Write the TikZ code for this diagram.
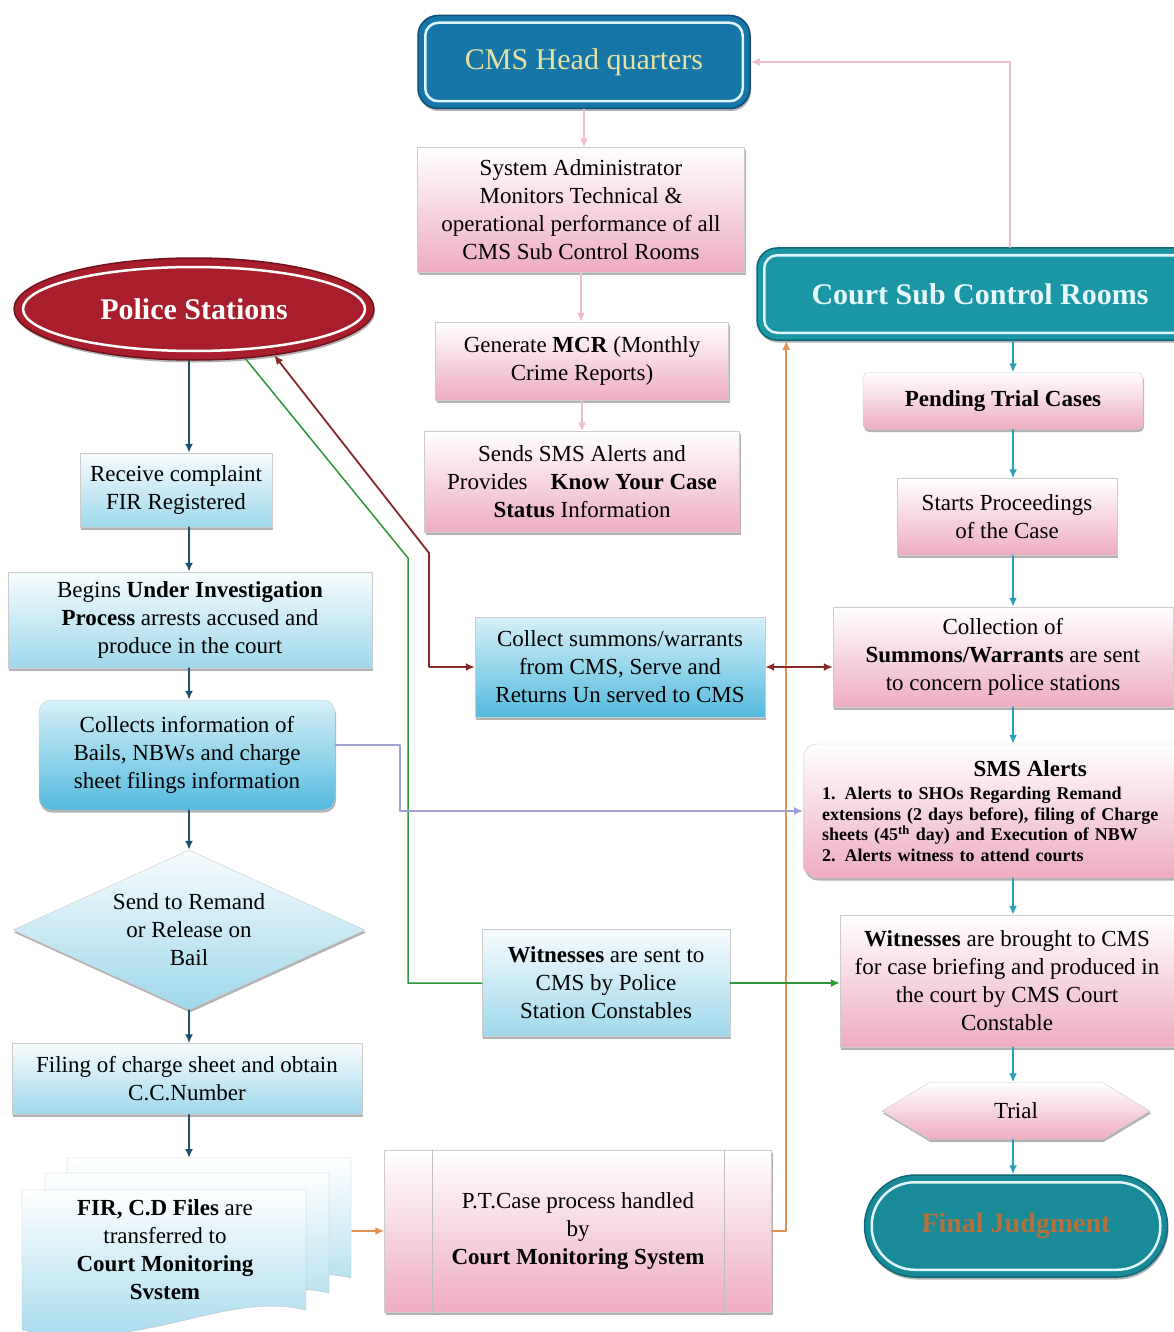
\documentclass[tikz,border=0pt]{standalone}
\usepackage{fontspec}
\setmainfont{Liberation Serif}
\usetikzlibrary{shapes.geometric,shapes.symbols,shadows,arrows.meta}
\definecolor{hqblue}{RGB}{22,118,168}
\definecolor{hqedge}{RGB}{12,78,118}
\definecolor{courtteal}{RGB}{26,150,165}
\definecolor{courtedge}{RGB}{14,104,118}
\definecolor{policered}{RGB}{168,30,44}
\definecolor{policeedge}{RGB}{112,18,28}
\definecolor{rosebottom}{RGB}{238,172,192}
\definecolor{skybottom}{RGB}{158,216,236}
\definecolor{skydeep}{RGB}{84,186,222}
\definecolor{skytop}{RGB}{214,240,248}
\definecolor{hqtext}{RGB}{232,226,160}
\definecolor{finaltext}{RGB}{178,112,58}
\definecolor{linkpink}{RGB}{240,190,202}
\definecolor{linkblue}{RGB}{30,78,112}
\definecolor{linkteal}{RGB}{40,158,184}
\definecolor{linkred}{RGB}{136,40,40}
\definecolor{linkgreen}{RGB}{44,150,56}
\definecolor{linkorange}{RGB}{226,146,80}
\definecolor{linklilac}{RGB}{160,160,214}
\newcommand{\boxfont}{\fontsize{23}{28}\selectfont}

\begin{document}
\begin{tikzpicture}[x=1pt,y=-1pt,line cap=round,line join=round,>={Latex[length=9pt,width=8pt]},
  pinkbox/.style={rectangle,draw=black!20,top color=white,bottom color=rosebottom,align=center,inner sep=0pt,font=\boxfont,
    drop shadow={shadow xshift=1pt,shadow yshift=-2.5pt,fill=black!60}},
  skybox/.style={pinkbox,bottom color=skybottom,top color=white!92!skybottom},
  deepbox/.style={pinkbox,rounded corners=12pt,bottom color=skydeep,top color=skytop},
  bandbox/.style={rectangle,rounded corners=#1,line width=1.5pt,inner sep=0pt,
    drop shadow={shadow xshift=1pt,shadow yshift=-2.5pt,fill=black!60}},
  innerline/.style={draw=cyan!12,line width=2.5pt},
  pinklink/.style={linkpink,line width=1.5pt,->},
  bluelink/.style={linkblue,line width=1.8pt,->},
  teallink/.style={linkteal,line width=1.8pt,->}]

  \useasboundingbox (0,0) rectangle (1174,1332);
  \clip (0,0) rectangle (1174,1332);

  % centre column
  \node[bandbox=20pt,fill=hqblue,draw=hqedge,minimum width=332pt,minimum height=93pt,
        font=\fontsize{30}{34}\selectfont,text=hqtext] (hq) at (584,62) {CMS Head quarters};
  \node[pinkbox,minimum width=327pt,minimum height=125pt] (sysadm) at (581,210)
    {System Administrator\\Monitors Technical \&\\operational performance of all\\CMS Sub Control Rooms};
  \node[pinkbox,minimum width=293pt,minimum height=78pt] (mcr) at (582,361)
    {Generate \textbf{MCR} (Monthly\\Crime Reports)};
  \node[pinkbox,minimum width=315pt,minimum height=101pt] (sms) at (582,482)
    {Sends SMS Alerts and\\Provides\quad\textbf{Know Your Case}\\\textbf{Status} Information};
  \node[deepbox,rounded corners=0pt,minimum width=290pt,minimum height=100pt] (summons) at (620,667)
    {Collect summons/warrants\\from CMS, Serve and\\Returns Un served to CMS};
  \node[skybox,minimum width=248pt,minimum height=107pt] (witsent) at (606,983)
    {\textbf{Witnesses} are sent to\\CMS by Police\\Station Constables};
  \node[pinkbox,minimum width=387pt,minimum height=162pt] (ptcase) at (578,1231)
    {P.T.Case process handled\\by\\\textbf{Court Monitoring System}};
  \draw[black!25] ([xshift=48pt]ptcase.north west) -- ([xshift=48pt]ptcase.south west)
                  ([xshift=-48pt]ptcase.north east) -- ([xshift=-48pt]ptcase.south east);

  % right column
  \node[bandbox=20pt,fill=courtteal,draw=courtedge,minimum width=446pt,minimum height=92pt,
        font=\fontsize{30}{34}\selectfont\bfseries,text=cyan!10] (court) at (980,294) {Court Sub Control Rooms};
  \node[pinkbox,rounded corners=5pt,minimum width=280pt,minimum height=57pt] (pending) at (1003,401)
    {\textbf{Pending Trial Cases}};
  \node[pinkbox,minimum width=220pt,minimum height=77pt] (starts) at (1007,517)
    {Starts Proceedings\\of the Case};
  \node[pinkbox,minimum width=340pt,minimum height=100pt] (collection) at (1003,657)
    {Collection of\\\textbf{Summons/Warrants} are sent\\to concern police stations};
  \node[pinkbox,rounded corners=14pt,anchor=west,align=left,text width=416pt,inner xsep=19pt,
        minimum height=134pt,font=\fontsize{18}{20.5}\selectfont\bfseries] (alerts) at (803,811)
    {\makebox[\linewidth]{\fontsize{23}{26}\selectfont SMS Alerts}\\[3pt]
     1. Alerts to SHOs Regarding Remand\\
     extensions (2 days before), filing of Charge\\
     sheets (45\textsuperscript{th} day) and Execution of NBW\\
     2. Alerts witness to attend courts};
  \node[pinkbox,minimum width=334pt,minimum height=132pt] (witbrought) at (1007,981)
    {\textbf{Witnesses} are brought to CMS\\for case briefing and produced in\\the court by CMS Court\\Constable};
  \node[pinkbox,signal,signal to=west and east,signal pointer angle=62,minimum width=268pt,
        minimum height=57pt] (trial) at (1016,1111) {Trial};
  \node[bandbox=51pt,fill=courtteal!92!black,draw=courtedge,minimum width=303pt,minimum height=102pt,
        font=\fontsize{28}{32}\selectfont\bfseries,text=finaltext] (final) at (1016,1226) {Final Judgment};

  % left column
  \node[bandbox=10pt,ellipse,fill=policered,draw=policeedge,minimum width=360pt,minimum height=102pt,
        font=\fontsize{30}{34}\selectfont\bfseries,text=white] (police) at (194,309) {Police Stations};
  \draw[white,line width=2.5pt] (police.center) ellipse [x radius=171pt,y radius=42pt];
  \node[skybox,minimum width=192pt,minimum height=74pt] (receive) at (176,490)
    {Receive complaint\\FIR Registered};
  \node[skybox,minimum width=364pt,minimum height=96pt] (begins) at (190,620)
    {Begins \textbf{Under Investigation}\\\textbf{Process} arrests accused and\\produce in the court};
  \node[deepbox,minimum width=296pt,minimum height=110pt] (collects) at (187,755)
    {Collects information of\\Bails, NBWs and charge\\sheet filings information};
  \node[skybox,diamond,aspect=2.2,minimum width=352pt,minimum height=160pt] (remand) at (189,930)
    {Send to Remand\\or Release on\\Bail};
  \node[skybox,minimum width=350pt,minimum height=71pt] (filing) at (187,1079)
    {Filing of charge sheet and obtain\\C.C.Number};
  \foreach \dx/\dy in {45/-32,23/-17,0/0}
    \draw[black!25,top color=white,bottom color=skybottom,shift={(22+\dx,1190+\dy)}]
      (0,0) -- (284,0) -- (284,120) .. controls (200,100) and (120,165) .. (0,140) -- cycle;
  \node[align=center,font=\boxfont] (files) at (165,1250)
    {\textbf{FIR, C.D Files} are\\transferred to\\\textbf{Court Monitoring}\\\textbf{Svstem}};

  % inner light lines of the banded shapes
  \foreach \n/\r in {hq/13,court/13,final/43}
    \draw[innerline,rounded corners=\r pt] ([shift={(8pt,-8pt)}]\n.north west) rectangle ([shift={(-8pt,8pt)}]\n.south east);

  \coordinate (lcol) at (189,0);
  \coordinate (rcol) at (1013,0);
  \coordinate (pinkup) at (1010,0);
  \coordinate (stacktop) at (189,1158);
  \coordinate (stackedge) at (352,1231);
  \coordinate (redbend) at (429,553);
  \coordinate (greenbend) at (408,558);
  \coordinate (lilacbend) at (400,0);

  % connectors
  \foreach \a/\b in {hq/sysadm,sysadm/mcr,mcr/sms}
    \draw[pinklink] (\a.south) -- (\a.south |- \b.north);
  \draw[pinklink] (court.north -| pinkup) |- (hq.east);
  \foreach \a/\b in {court/pending,pending/starts,starts/collection,collection/alerts,alerts/witbrought,witbrought/trial,trial/final}
    \draw[teallink] (\a.south -| rcol) -- (\b.north -| rcol);
  \foreach \a/\b in {police/receive,receive/begins,begins/collects,collects/remand,remand/filing}
    \draw[bluelink] (\a.south -| lcol) -- (\b.north -| lcol);
  \draw[bluelink] (filing.south -| lcol) -- (stacktop);
  \draw[linkorange,line width=1.8pt,->] (stackedge) -- (ptcase.west);
  \draw[linkorange,line width=1.8pt,->] (ptcase.east) -| ([xshift=30pt]court.south west);
  \draw[linkred,line width=1.8pt,<->] (police.-30) -- (redbend) |- (summons.west);
  \draw[linkred,line width=1.8pt,<->] (summons.east) -- (summons.east -| collection.west);
  \draw[linkgreen,line width=1.5pt] (police.-44) -- (greenbend) |- (witsent.west);
  \draw[linkgreen,line width=1.8pt,->] (witsent.east) -- (witsent.east -| witbrought.west);
  \draw[linklilac,line width=1.5pt,->] ([yshift=10pt]collects.east) -| (lilacbend |- alerts.west) -- (alerts.west);
\end{tikzpicture}
\end{document}
